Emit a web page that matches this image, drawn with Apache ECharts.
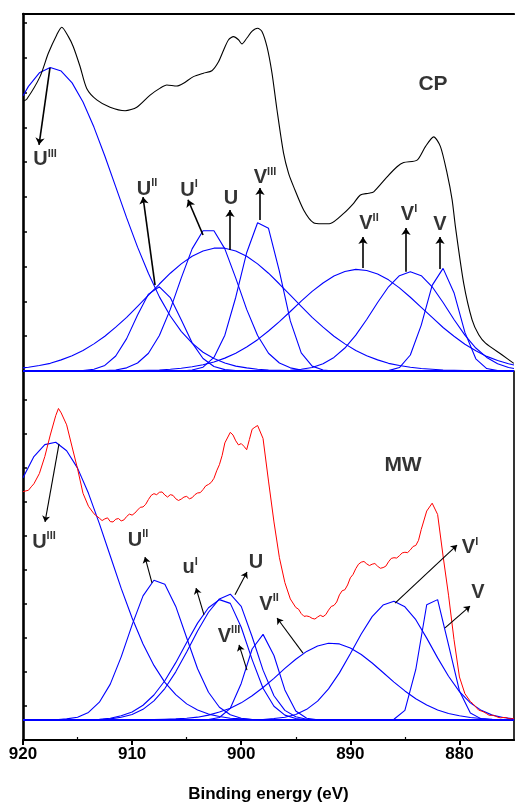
<!DOCTYPE html>
<html><head><meta charset="utf-8">
<script src="https://cdn.jsdelivr.net/npm/echarts@6/dist/echarts.min.js"></script>
<style>html,body{margin:0;padding:0;background:#fff}#c{width:515px;height:804px}</style>
</head><body><div id="c"></div>
<script>
// ---------- CP panel (top) ----------
const cpEnergy = [920,919.5,918.5,917.5,916.5,915.5,914.5,913.5,912.5,911.5,910.5,909.5,908.5,907.5,906.5,905.5,904.5,903.5,902.5,901.5,900.5,899.5,898.5,897.5,896.5,895.5,894.5,893.5,892.5,891.5,890.5,889.5,888.5,887.5,886.5,885.5,884.5,883.5,882.5,881.5,880.5,879.5,878.5,877.5,876.5,875.5,875];
const cpU3 = [7.91,8.18,8.57,8.72,8.62,8.28,7.73,7.01,6.18,5.29,4.40,3.56,2.80,2.13,1.58,1.14,0.80,0.54,0.36,0.23,0.14,0.09,0.05,0.03,0.02,0.01,0,0,0,0,0,0,0,0,0,0,0,0,0,0,0,0,0,0,0,0,0];
const cpU2 = [0,0,0,0,0,0,0.01,0.05,0.16,0.43,0.93,1.61,2.21,2.42,2.11,1.47,0.81,0.36,0.13,0.04,0.01,0,0,0,0,0,0,0,0,0,0,0,0,0,0,0,0,0,0,0,0,0,0,0,0,0,0];
const cpU1 = [0,0,0,0,0,0,0,0,0.01,0.03,0.09,0.23,0.51,1.02,1.77,2.67,3.51,4.03,4.03,3.51,2.67,1.77,1.02,0.51,0.23,0.09,0.03,0.01,0,0,0,0,0,0,0,0,0,0,0,0,0,0,0,0,0,0,0];
const cpU = [0.09,0.11,0.16,0.22,0.32,0.44,0.59,0.78,1.00,1.26,1.54,1.86,2.18,2.50,2.81,3.08,3.30,3.45,3.53,3.53,3.45,3.30,3.08,2.81,2.50,2.18,1.86,1.54,1.26,1.00,0.78,0.59,0.44,0.32,0.22,0.16,0.11,0.07,0.05,0.03,0.02,0.01,0.01,0,0,0,0];
const cpV3 = [0,0,0,0,0,0,0,0,0,0,0,0,0,0,0,0,0.03,0.11,0.39,1.03,2.12,3.40,4.26,4.10,2.86,1.44,0.52,0.14,0.03,0,0,0,0,0,0,0,0,0,0,0,0,0,0,0,0,0,0];
const cpV2 = [0,0,0,0,0,0,0,0,0,0,0.01,0.01,0.02,0.03,0.05,0.08,0.12,0.18,0.26,0.37,0.51,0.69,0.90,1.15,1.42,1.71,2.01,2.29,2.53,2.73,2.86,2.92,2.89,2.79,2.62,2.39,2.12,1.83,1.54,1.25,1.00,0.77,0.58,0.42,0.30,0.21,0.17];
const cpV1 = [0,0,0,0,0,0,0,0,0,0,0,0,0,0,0,0,0,0,0,0,0,0,0,0,0.01,0.02,0.05,0.10,0.21,0.39,0.66,1.03,1.48,1.97,2.42,2.74,2.85,2.74,2.42,1.97,1.48,1.03,0.66,0.39,0.21,0.10,0.07];
const cpV = [0,0,0,0,0,0,0,0,0,0,0,0,0,0,0,0,0,0,0,0,0,0,0,0,0,0,0,0,0,0,0,0,0,0,0.01,0.10,0.46,1.32,2.46,2.95,2.25,1.11,0.35,0.07,0.01,0,0];
const cpEnvE = [920,919.66,918.44,917.68,916.91,916.45,915.84,915.39,914.77,914.16,913.24,912.02,910.64,909.57,908.35,907.43,906.82,905.90,905.29,904.38,903.46,902.69,902.08,901.62,901.16,900.71,900.25,899.94,899.48,899.02,898.50,898.10,897.64,897.18,896.72,896.12,895.66,895.20,894.28,893.37,892.60,891.83,890.61,889.70,889.08,888.32,887.86,886.63,885.72,885.11,883.88,883.12,882.36,881.74,881.13,880.67,880.37,879.61,878.84,878.23,877.61,876.08,875.02];
const cpEnvI = [7.75,7.81,8.46,9.13,9.66,9.88,9.61,9.32,8.75,8.12,7.79,7.58,7.48,7.58,7.93,8.13,8.22,8.19,8.27,8.46,8.56,8.63,8.89,9.22,9.52,9.61,9.52,9.40,9.57,9.76,9.85,9.76,9.32,8.56,7.50,6.26,5.68,5.30,4.63,4.26,4.23,4.24,4.53,4.82,5.06,5.11,5.15,5.58,5.87,5.99,6.06,6.45,6.73,6.45,5.68,4.92,4.15,2.52,1.47,1.04,0.80,0.46,0.22];
const cpBaseline = 0;

// ---------- MW panel (bottom) ----------
const mwEnergy = [920,919,918,917,916,915,914,913,912,911,910,909,908,907,906,905,904,903,902,901,900,899,898,897,896,895,894,893,892,891,890,889,888,887,886,885,884,883,882,881,880,879,878,877,876,875];
const mwU3 = [7.70,8.32,8.67,8.74,8.49,7.98,7.24,6.35,5.40,4.45,3.58,2.82,2.19,1.69,1.33,1.06,0.88,0.76,0.69,0.64,0.62,0.60,0.59,0.59,0.59,0.59,0.59,0.59,0.59,0.59,0.59,0.59,0.59,0.59,0.59,0.59,0.59,0.59,0.59,0.59,0.59,0.59,0.59,0.59,0.59,0.59];
const mwU2 = [0.59,0.59,0.59,0.59,0.62,0.67,0.81,1.11,1.64,2.44,3.38,4.23,4.69,4.57,3.92,3.00,2.09,1.40,0.96,0.74,0.64,0.60,0.59,0.59,0.59,0.59,0.59,0.59,0.59,0.59,0.59,0.59,0.59,0.59,0.59,0.59,0.59,0.59,0.59,0.59,0.59,0.59,0.59,0.59,0.59,0.59];
const mwU1 = [0.59,0.59,0.59,0.59,0.59,0.59,0.59,0.61,0.64,0.71,0.82,1.02,1.32,1.74,2.27,2.86,3.43,3.88,4.12,4.01,3.31,2.36,1.52,0.99,0.73,0.63,0.59,0.59,0.59,0.59,0.59,0.59,0.59,0.59,0.59,0.59,0.59,0.59,0.59,0.59,0.59,0.59,0.59,0.59,0.59,0.59];
const mwU = [0.59,0.59,0.59,0.59,0.59,0.59,0.59,0.59,0.62,0.67,0.75,0.90,1.15,1.51,2.00,2.58,3.20,3.75,4.14,4.28,3.92,3.03,2.05,1.30,0.87,0.68,0.61,0.59,0.59,0.59,0.59,0.59,0.59,0.59,0.59,0.59,0.59,0.59,0.59,0.59,0.59,0.59,0.59,0.59,0.59,0.59];
const mwV3 = [0.59,0.59,0.59,0.59,0.59,0.59,0.59,0.59,0.59,0.59,0.59,0.59,0.59,0.59,0.59,0.59,0.59,0.60,0.66,0.93,1.66,2.67,3.10,2.48,1.47,0.85,0.64,0.59,0.59,0.59,0.59,0.59,0.59,0.59,0.59,0.59,0.59,0.59,0.59,0.59,0.59,0.59,0.59,0.59,0.59,0.59];
const mwV2 = [0.59,0.59,0.59,0.59,0.59,0.59,0.59,0.59,0.59,0.59,0.59,0.59,0.60,0.61,0.62,0.64,0.67,0.73,0.82,0.93,1.09,1.30,1.54,1.81,2.10,2.37,2.60,2.76,2.84,2.82,2.70,2.51,2.26,1.98,1.70,1.44,1.21,1.03,0.88,0.78,0.71,0.66,0.63,0.61,0.60,0.60];
const mwV1 = [0.59,0.59,0.59,0.59,0.59,0.59,0.59,0.59,0.59,0.59,0.59,0.59,0.59,0.59,0.59,0.59,0.59,0.59,0.59,0.59,0.59,0.59,0.60,0.63,0.67,0.75,0.90,1.14,1.50,1.97,2.53,3.11,3.62,3.96,4.07,3.91,3.53,2.99,2.41,1.87,1.42,1.09,0.87,0.73,0.66,0.62];
const mwV = [0.59,0.59,0.59,0.59,0.59,0.59,0.59,0.59,0.59,0.59,0.59,0.59,0.59,0.59,0.59,0.59,0.59,0.59,0.59,0.59,0.59,0.59,0.59,0.59,0.59,0.59,0.59,0.59,0.59,0.59,0.59,0.59,0.59,0.59,0.61,0.87,2.07,3.97,4.12,2.79,1.44,0.79,0.62,0.59,0.59,0.59];
const mwEnvE = [920,919.5,919.25,919,918.5,918,917.5,917,916.75,916.5,916,915.5,915,914.5,914,913.5,913,912.75,912.5,912.25,912,911.75,911.5,911.25,911,910.75,910.5,910.25,910,909.75,909.5,909.25,909,908.75,908.5,908.25,908,907.75,907.5,907.25,907,906.75,906.5,906.25,906,905.75,905.5,905.25,905,904.75,904.5,904.25,904,903.75,903.5,903.25,903,902.75,902.5,902.25,902,901.75,901.5,901,900.75,900.5,900.25,900,899.75,899.5,899.25,899,898.75,898.5,898,897.5,897,896.5,896,895.5,895,894.75,894.5,894.25,894,893.75,893.5,893.25,893,892.75,892.5,892.25,892,891.75,891.5,891.25,891,890.75,890.5,890.25,890,889.75,889.5,889.25,889,888.75,888.5,888.25,888,887.75,887.5,887.25,887,886.75,886.5,886.25,886,885.75,885.5,885.25,885,884.75,884.5,884.25,884,883.75,883.5,883,882.5,882,881.5,881,880.5,880,879.5,879,878.75,878.5,878.25,878,877.75,877.5,877.25,877,876.75,876.5,876.25,876,875.75,875.5,875.25,875];
const mwEnvI = [7.29,7.33,7.43,7.52,7.82,8.32,8.95,9.52,9.73,9.60,9.25,8.60,7.96,7.24,6.86,6.64,6.51,6.44,6.49,6.52,6.41,6.40,6.48,6.50,6.43,6.46,6.56,6.63,6.60,6.66,6.75,6.83,6.84,6.92,7.06,7.18,7.23,7.20,7.27,7.28,7.19,7.13,7.20,7.18,7.08,7.03,7.07,7.13,7.15,7.08,7.11,7.20,7.25,7.26,7.35,7.46,7.50,7.56,7.68,7.90,8.08,8.35,8.72,9.03,8.95,8.78,8.66,8.70,8.62,8.52,8.82,9.12,9.18,9.23,8.85,7.60,6.40,5.35,4.62,4.14,3.89,3.84,3.71,3.63,3.64,3.62,3.57,3.55,3.61,3.66,3.62,3.68,3.81,3.92,3.95,4.05,4.26,4.38,4.41,4.55,4.76,4.86,5.03,5.16,5.22,5.24,5.17,5.12,5.16,5.18,5.10,5.04,5.06,5.10,5.23,5.33,5.35,5.34,5.41,5.49,5.51,5.50,5.58,5.68,5.71,5.86,6.18,6.72,6.95,6.62,5.40,4.25,2.95,1.85,1.36,1.13,1.06,0.97,0.88,0.85,0.82,0.77,0.72,0.73,0.71,0.67,0.65,0.66,0.66,0.63,0.62,0.64];
const mwBaseline = 0.59;

// axis ticks
const xTickLabels = [920,910,900,890,880];
const xMinorTicks = [915,905,895,885];

// annotations (label text, anchor in data units, arrows from -> to)
const cpLabelText = ['U{s|III}','U{s|II}','U{s|I}','U','V{s|III}','V{s|II}','V{s|I}','V'];
const cpLabelE = [917.98,908.63,904.78,900.94,897.82,888.29,884.62,881.78];
const cpLabelI = [6.07,5.23,5.20,4.95,5.55,4.23,4.49,4.20];
const cpArrowFrom = [[917.53,8.71],[907.90,2.47],[903.50,3.91],[901.03,3.48],[898.28,4.34],[888.84,2.96],[884.90,2.85],[881.78,2.93]];
const cpArrowTo = [[918.53,6.50],[909.00,5.00],[904.88,4.92],[901.03,4.63],[898.28,5.26],[888.84,3.85],[884.90,4.11],[881.78,3.85]];
const mwLabelText = ['U{s|III}','U{s|II}','u{s|I}','U','V{s|III}','V{s|II}','V{s|I}','V'];
const mwLabelE = [918.08,909.46,904.69,898.64,901.12,897.45,879.03,878.30];
const mwLabelI = [5.81,5.87,5.05,5.20,3.05,3.99,5.64,4.34];
const mwArrowFrom = [[916.70,8.69],[908.18,4.61],[903.41,3.67],[900.57,4.26],[899.47,2.05],[894.34,2.55],[885.90,4.02],[881.32,3.29]];
const mwArrowTo = [[917.98,6.40],[908.82,5.37],[904.14,4.46],[899.47,4.93],[900.20,2.79],[896.72,3.58],[880.22,5.72],[879.03,3.93]];

// ---------- build ----------
const FONT = '"Liberation Sans", Arial, sans-serif';
const BLUE = '#0000ff';
const pairs = (xs, ys) => xs.map((x, i) => [x, ys[i]]);
const lineSeries = (name, xs, ys, g, color, width, z) => ({
  name, type: 'line', xAxisIndex: g === 0 ? 0 : 1, yAxisIndex: g === 0 ? 0 : 1,
  data: pairs(xs, ys), showSymbol: false, symbol: 'none', clip: false, silent: true,
  lineStyle: { color, width }, z: z || 2
});
const txt = { fontWeight: 'bold', fontFamily: FONT, color: '#000', textBorderWidth: 0, textBorderColor: 'transparent', textShadowBlur: 0 };
const rich = { s: Object.assign({ fontSize: 11, verticalAlign: 'top', lineHeight: 11 }, txt) };
const labelSeries = (g, texts, es, is, arrowsFrom, arrowsTo, size) => ({
  type: 'scatter', xAxisIndex: g === 0 ? 0 : 1, yAxisIndex: g === 0 ? 0 : 1,
  symbolSize: 0, silent: true, clip: false, z: 10, itemStyle: { color: '#000' },
  data: texts.map((t, i) => ({ value: [es[i], is[i]], label: { formatter: t } })),
  label: Object.assign({ show: true, position: 'inside', align: 'center', verticalAlign: 'middle',
    fontSize: 20, lineHeight: 23, rich }, txt),
  markLine: {
    silent: true, animation: false, symbol: ['none', 'arrow'], symbolSize: size,
    label: { show: false }, lineStyle: { color: '#000', width: g === 0 ? 1.6 : 1.1, type: 'solid' },
    data: arrowsFrom.map((f, i) => [{ coord: f }, { coord: arrowsTo[i] }])
  }
});

const series = [
  lineSeries('cpBase', [920, 875], [cpBaseline, cpBaseline], 0, BLUE, 2.2),
  lineSeries('cpU3', cpEnergy, cpU3, 0, BLUE, 1.1),
  lineSeries('cpU2', cpEnergy, cpU2, 0, BLUE, 1.1),
  lineSeries('cpU1', cpEnergy, cpU1, 0, BLUE, 1.1),
  lineSeries('cpU', cpEnergy, cpU, 0, BLUE, 1.1),
  lineSeries('cpV3', cpEnergy, cpV3, 0, BLUE, 1.1),
  lineSeries('cpV2', cpEnergy, cpV2, 0, BLUE, 1.1),
  lineSeries('cpV1', cpEnergy, cpV1, 0, BLUE, 1.1),
  lineSeries('cpV', cpEnergy, cpV, 0, BLUE, 1.1),
  Object.assign(lineSeries('cpEnv', cpEnvE, cpEnvI, 0, '#000', 1.1, 3), { smooth: 0.25 }),
  lineSeries('mwBase', [920, 875], [mwBaseline, mwBaseline], 1, BLUE, 1.6),
  lineSeries('mwU3', mwEnergy, mwU3, 1, BLUE, 1.1),
  lineSeries('mwU2', mwEnergy, mwU2, 1, BLUE, 1.1),
  lineSeries('mwU1', mwEnergy, mwU1, 1, BLUE, 1.1),
  lineSeries('mwU', mwEnergy, mwU, 1, BLUE, 1.1),
  lineSeries('mwV3', mwEnergy, mwV3, 1, BLUE, 1.1),
  lineSeries('mwV2', mwEnergy, mwV2, 1, BLUE, 1.1),
  lineSeries('mwV1', mwEnergy, mwV1, 1, BLUE, 1.1),
  lineSeries('mwV', mwEnergy, mwV, 1, BLUE, 1.1),
  lineSeries('mwEnv', mwEnvE, mwEnvI, 1, '#ff0000', 1, 3),
  labelSeries(0, cpLabelText, cpLabelE, cpLabelI, cpArrowFrom, cpArrowTo, 7),
  labelSeries(1, mwLabelText, mwLabelE, mwLabelI, mwArrowFrom, mwArrowTo, 6),
  {
    type: 'scatter', xAxisIndex: 0, yAxisIndex: 0, symbolSize: 0, silent: true, z: 10, itemStyle: { color: '#000' },
    data: [{ value: [882.42, 8.25], label: { formatter: 'CP' } }],
    label: Object.assign({ show: true, position: 'inside', fontSize: 21 }, txt)
  },
  {
    type: 'scatter', xAxisIndex: 1, yAxisIndex: 1, symbolSize: 0, silent: true, z: 10, itemStyle: { color: '#000' },
    data: [{ value: [885.17, 8.07], label: { formatter: 'MW' } }],
    label: Object.assign({ show: true, position: 'inside', fontSize: 21 }, txt)
  }
];

const chart = echarts.init(document.getElementById('c'), null, { renderer: 'canvas' });
chart.setOption({
  animation: false,
  backgroundColor: '#fff',
  grid: [
    { left: 23, right: 1, top: 14, height: 357 },
    { left: 23, right: 1, top: 371, height: 369 }
  ],
  xAxis: [
    { gridIndex: 0, type: 'value', min: 875, max: 920, inverse: true, position: 'top',
      axisLine: { show: true, onZero: false, lineStyle: { color: '#000', width: 2.2 } },
      axisTick: { show: false }, axisLabel: { show: false }, splitLine: { show: false } },
    { gridIndex: 1, type: 'value', min: 875, max: 920, inverse: true, position: 'bottom',
      axisLine: { show: true, onZero: false, lineStyle: { color: '#000', width: 2.2 } },
      axisTick: { show: true, customValues: xTickLabels, length: 5, lineStyle: { color: '#000', width: 2 } },
      axisLabel: { show: true, customValues: xTickLabels, margin: 6, fontSize: 17, fontWeight: 'bold', fontFamily: FONT, color: '#000' },
      splitLine: { show: false },
      name: 'Binding energy (eV)', nameLocation: 'middle', nameGap: 46,
      nameTextStyle: { fontSize: 17, fontWeight: 'bold', fontFamily: FONT, color: '#000' } },
    { gridIndex: 1, type: 'value', min: 875, max: 920, inverse: true, position: 'bottom',
      axisLine: { show: false, onZero: false },
      axisTick: { show: true, inside: true, customValues: xMinorTicks, length: 3, lineStyle: { color: '#000', width: 1.2 } },
      axisLabel: { show: false }, splitLine: { show: false } }
  ],
  yAxis: [
    { gridIndex: 0, type: 'value', min: 0, max: 10.26, interval: 1,
      axisLine: { show: true, onZero: false, lineStyle: { color: '#000', width: 2.6 } },
      axisTick: { show: true, inside: true, length: 4, lineStyle: { color: '#000', width: 1.5 } },
      axisLabel: { show: false }, splitLine: { show: false } },
    { gridIndex: 1, type: 'value', min: 0, max: 10.83, interval: 1,
      axisLine: { show: true, onZero: false, lineStyle: { color: '#000', width: 2.6 } },
      axisTick: { show: true, inside: true, length: 4, lineStyle: { color: '#000', width: 1.5 } },
      axisLabel: { show: false }, splitLine: { show: false } },
    { gridIndex: 1, type: 'value', min: 0, max: 10.83, position: 'right',
      axisLine: { show: true, onZero: false, lineStyle: { color: '#000', width: 1.6 } },
      axisTick: { show: false }, axisLabel: { show: false }, splitLine: { show: false } }
  ],
  series
});
</script>
</body></html>
